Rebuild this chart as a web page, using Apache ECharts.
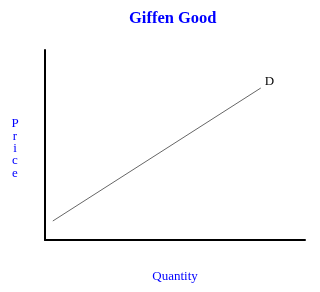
<!DOCTYPE html>
<html><head><meta charset="utf-8">
<script src="https://cdn.jsdelivr.net/npm/echarts@6/dist/echarts.min.js"></script>
<style>html,body{margin:0;padding:0;background:#fff}#c{width:320px;height:292px}</style>
</head><body><div id="c"></div>
<script>
var quantity = [3, 83];
var price = [10, 80];
var curveLabel = 'D';
var yName = 'Price';
var xName = 'Quantity';

var chart = echarts.init(document.getElementById('c'));
var data = quantity.map(function (q, i) { return [q, price[i]]; });
var yNameRich = '{g| }\n' + yName.split('').map(function (ch) { return '{t|' + ch + '}'; }).join('\n');
chart.setOption({
  animation: false,
  title: { text: 'Giffen Good', left: 124, top: 5,
    textStyle: { color: '#0000ff', fontFamily: 'Liberation Serif', fontSize: 16.5, fontWeight: 'bold' } },
  grid: { left: 45, right: 15, top: 50, bottom: 52 },
  xAxis: { type: 'value', min: 0, max: 100, name: xName, nameLocation: 'middle', nameGap: 30,
    nameTextStyle: { color: '#0000ff', fontFamily: 'Liberation Serif', fontSize: 13 },
    axisLine: { lineStyle: { color: '#000', width: 2 } }, axisTick: { show: false },
    axisLabel: { show: false }, splitLine: { show: false } },
  yAxis: { type: 'value', min: 0, max: 100, name: yNameRich, nameLocation: 'middle', nameGap: 30, nameRotate: 0,
    nameTextStyle: { color: '#0000ff', fontFamily: 'Liberation Serif', fontSize: 13, align: 'center',
      rich: {
        g: { fontSize: 6, lineHeight: 7 },
        t: { color: '#0000ff', fontFamily: 'Liberation Serif', fontSize: 13, lineHeight: 12.3, align: 'center' }
      } },
    axisLine: { show: true, lineStyle: { color: '#000', width: 2 } }, axisTick: { show: false },
    axisLabel: { show: false }, splitLine: { show: false } },
  series: [{ type: 'line', data: data, symbol: 'none', showSymbol: false,
    lineStyle: { color: '#666', width: 1 },
    endLabel: { show: true, formatter: curveLabel, distance: 4, offset: [0, -6],
      color: '#000', fontFamily: 'Liberation Serif', fontSize: 13 } }]
});
</script></body></html>
